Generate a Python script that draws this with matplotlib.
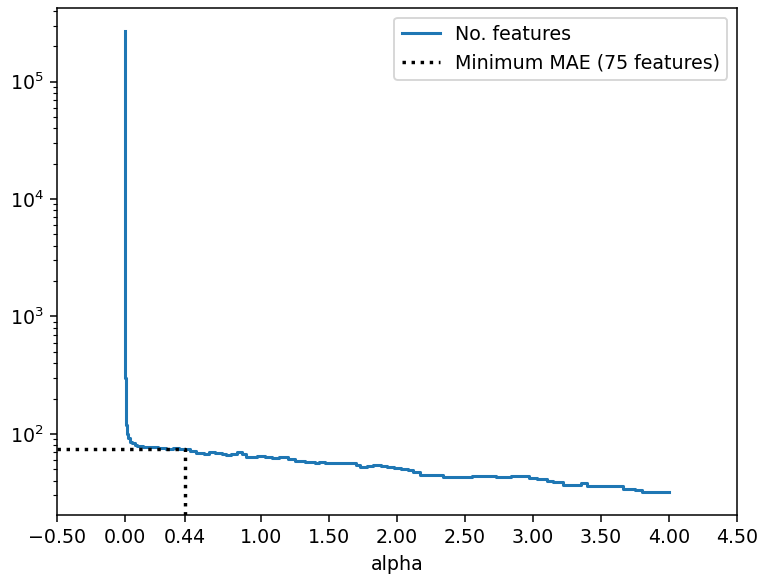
import matplotlib
matplotlib.use("Agg")
import matplotlib.pyplot as plt
import numpy as np

# Lasso path: number of non-zero features as the regularisation strength grows
alphas = [0.0, 0.0005, 0.001, 0.002, 0.003, 0.005, 0.008, 0.0125, 0.02, 0.035,
          0.05, 0.07, 0.09, 0.13, 0.18, 0.24, 0.30, 0.35, 0.40, 0.44,
          0.48, 0.52, 0.58, 0.62, 0.66, 0.71, 0.74, 0.78, 0.82, 0.86,
          0.89, 0.93, 0.97, 1.03, 1.08, 1.13, 1.20, 1.25, 1.32, 1.40,
          1.43, 1.47, 1.63, 1.70, 1.73, 1.78, 1.82, 1.88, 1.93, 1.98,
          2.03, 2.08, 2.12, 2.17, 2.34, 2.55, 2.73, 2.84, 2.97, 3.03,
          3.10, 3.15, 3.22, 3.35, 3.40, 3.66, 3.75, 3.80, 4.00]
n_features = [270000, 30000, 5000, 800, 300, 160, 120, 100, 92, 86,
              83, 81, 79, 78, 77, 76, 75, 76, 75, 74,
              71, 69, 68, 70, 69, 67, 66, 68, 70, 68,
              64, 63, 65, 64, 62, 63, 61, 59, 58, 57,
              58, 57, 56, 54, 52, 53, 54, 53, 52, 51,
              50, 49, 47, 45, 43, 44, 43, 44, 42, 41,
              40, 39, 37, 38, 36, 34, 33, 32, 32]

best_alpha = 0.44
best_n = 75

xticks = [-0.5, 0.0, 0.44, 1.0, 1.5, 2.0, 2.5, 3.0, 3.5, 4.0, 4.5]

DPI = 137
fig = plt.figure(figsize=(757 / DPI, 576 / DPI), dpi=DPI)
ax = fig.add_axes([57 / 757, 61 / 576, 680 / 757, 507 / 576])

ax.plot(alphas, n_features, color="#1f77b4", lw=1.6, drawstyle="steps-post",
        label="No. features")
ax.set_yscale("log")
ax.set_xlim(-0.5, 4.5)
ymin, ymax = ax.get_ylim()
ax.plot([-0.5, best_alpha, best_alpha], [best_n, best_n, ymin], "k:", lw=1.8,
        label=f"Minimum MAE ({best_n} features)", scalex=False, scaley=False)
ax.set_ylim(ymin, ymax)

ax.set_xticks(xticks)
ax.set_xticklabels([f"{t:.2f}".replace("-", "\u2212") for t in xticks])
ax.set_xlabel("alpha")
ax.legend(loc="upper right")

fig.savefig("out.png", dpi=DPI)
